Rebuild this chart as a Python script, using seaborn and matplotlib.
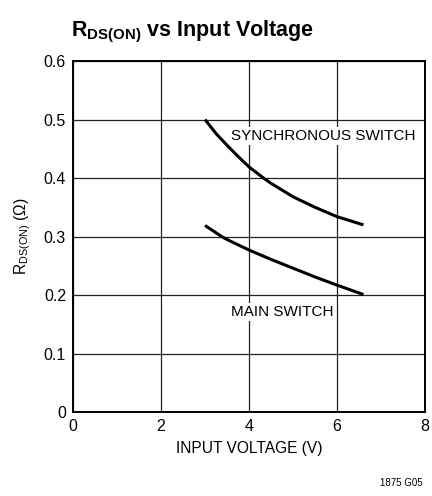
import numpy as np
import pandas as pd
import matplotlib
matplotlib.use("Agg")
import matplotlib.pyplot as plt
import seaborn as sns

# curve values
sync_v = [3.0, 3.25, 3.5, 3.75, 4.0, 4.33, 4.5, 5.0, 5.5, 6.0, 6.3, 6.6]
sync_r = [0.500, 0.476, 0.456, 0.437, 0.419, 0.400, 0.391, 0.368, 0.350, 0.334, 0.327, 0.320]
main_v = [3.0, 3.38, 3.5, 4.0, 4.5, 5.0, 5.5, 6.0, 6.3, 6.6]
main_r = [0.319, 0.300, 0.295, 0.277, 0.261, 0.246, 0.231, 0.217, 0.209, 0.201]

x_ticks = [0, 2, 4, 6, 8]
y_ticks = [0, 0.1, 0.2, 0.3, 0.4, 0.5, 0.6]
y_labels = ["0", "0.1", "0.2", "0.3", "0.4", "0.5", "0.6"]

df = pd.concat([
    pd.DataFrame({"v": sync_v, "r": sync_r, "sw": "sync"}),
    pd.DataFrame({"v": main_v, "r": main_r, "sw": "main"}),
])

sns.set_style("white")
plt.rcParams["font.family"] = ["Liberation Sans", "DejaVu Sans"]
plt.rcParams["mathtext.fontset"] = "custom"
plt.rcParams["mathtext.rm"] = "Liberation Sans"
plt.rcParams["mathtext.bf"] = "Liberation Sans:bold"
plt.rcParams["text.color"] = "black"
plt.rcParams["axes.labelcolor"] = "black"

fig = plt.figure(figsize=(4.32, 4.96), dpi=100)
ax = fig.add_axes([0.169, 0.169, 0.815, 0.708])

sns.lineplot(data=df, x="v", y="r", units="sw", estimator=None,
             color="black", linewidth=2.2, ax=ax, legend=False)
for ln in ax.lines:
    ln.set_solid_capstyle("butt")
    ln.set_solid_joinstyle("round")

ax.set_xlim(0, 8)
ax.set_ylim(0, 0.6)
ax.set_xticks(x_ticks)
ax.set_yticks(y_ticks)
ax.set_yticklabels(y_labels)
ax.tick_params(length=0, labelsize=11.5, pad=5, colors="black")
ax.grid(True, color="#222222", linewidth=0.9)
for s in ax.spines.values():
    s.set_color("black")
    s.set_linewidth(1.4)

ax.set_xlabel("INPUT VOLTAGE (V)", fontsize=11.2, labelpad=5)
ax.set_ylabel(r"R$_{\mathrm{DS(ON)}}$ ($\Omega$)", fontsize=11.2, labelpad=8)

bbox = dict(facecolor="white", edgecolor="none", pad=1.5)
ax.text(3.6, 0.472, "SYNCHRONOUS SWITCH", fontsize=11, ha="left", va="center", bbox=bbox)
ax.text(3.6, 0.171, "MAIN SWITCH", fontsize=11, ha="left", va="center", bbox=bbox)

fig.text(0.165, 0.935, r"$\mathbf{R_{DS(ON)}}$ vs Input Voltage", fontsize=15.5,
         fontweight="bold", ha="left", va="center")
fig.text(0.978, 0.026, "1875 G05", fontsize=7, ha="right", va="center")

fig.savefig("out.png", dpi=100)
